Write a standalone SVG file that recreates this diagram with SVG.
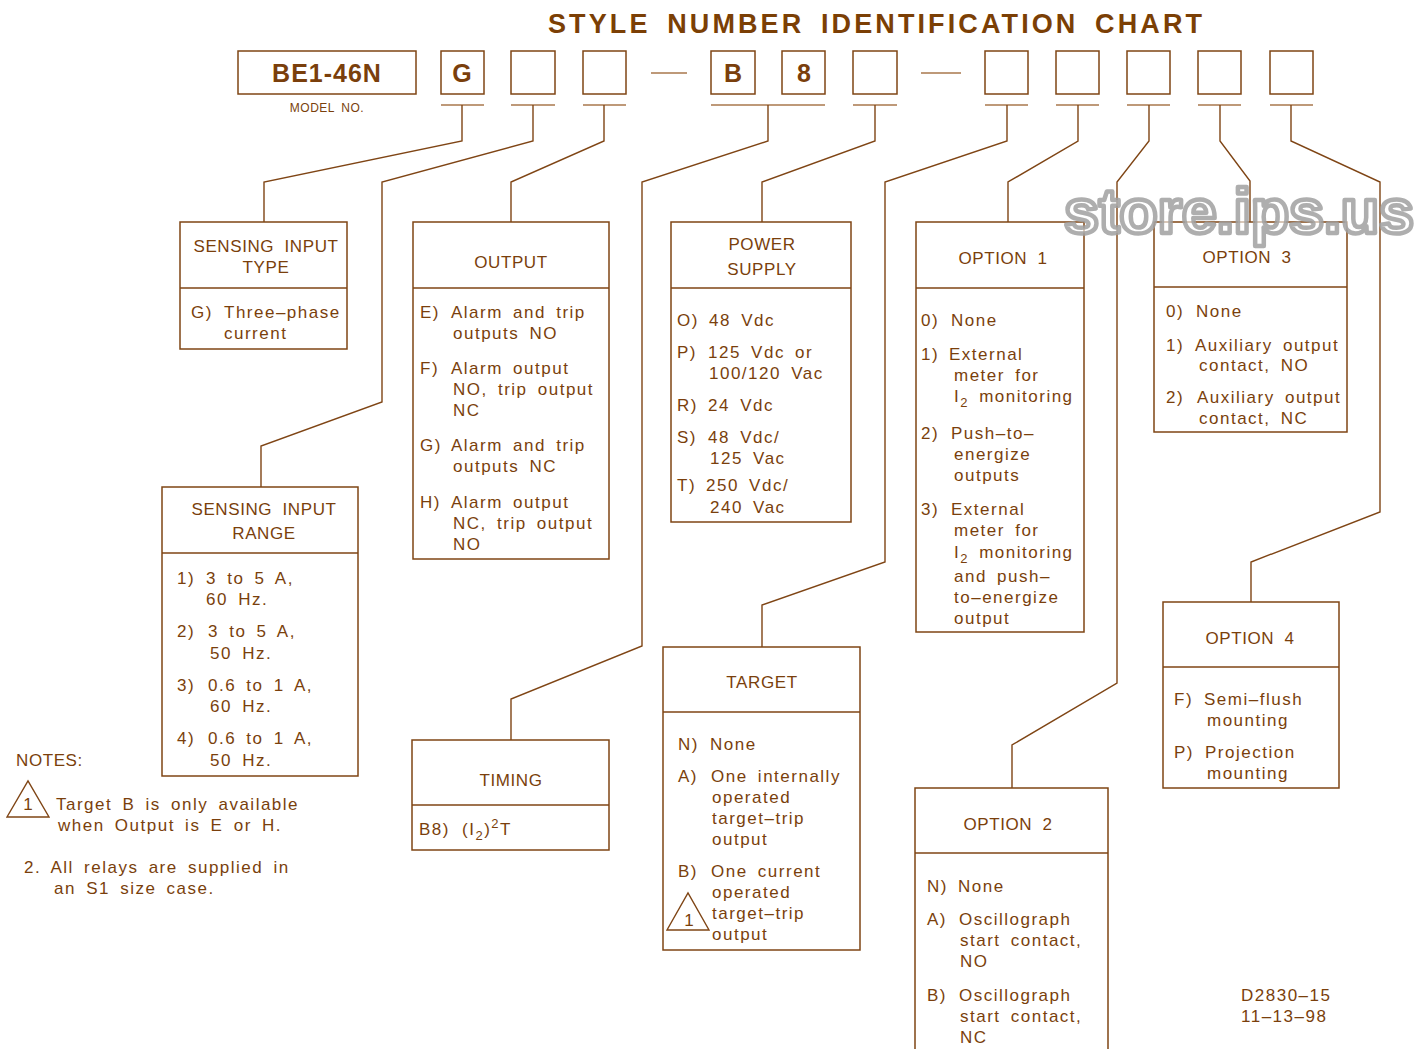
<svg xmlns="http://www.w3.org/2000/svg" width="1428" height="1049" viewBox="0 0 1428 1049">
<style>
text{font-family:"Liberation Sans",Arial,sans-serif;fill:#7a3f0c}
.t{font-size:17px;letter-spacing:1.5px;word-spacing:4px}
.h{font-size:17px;letter-spacing:0.6px;word-spacing:5px;text-anchor:middle}
.sub{font-size:13px}
.b{font-weight:bold;font-size:25px;text-anchor:middle}
.box{fill:none;stroke:#7f4515;stroke-width:1.5}
.bar{stroke:#a8774c;stroke-width:1.6}
.ln{fill:none;stroke:#7f4515;stroke-width:1.4}
</style>
<rect width="1428" height="1049" fill="#ffffff"/>
<text x="548" y="33" textLength="654" lengthAdjust="spacing" style="font-size:27px;font-weight:bold;fill:#7b3f05;word-spacing:6px">STYLE NUMBER IDENTIFICATION CHART</text>

<g id="style-number">
<rect class="box" x="238" y="51" width="178" height="43"/>
<text class="b" x="327" y="82" letter-spacing="1">BE1-46N</text>
<text x="327" y="112" style="font-size:12px;text-anchor:middle;letter-spacing:0.5px;word-spacing:3px">MODEL NO.</text>
<rect class="box" x="441" y="51" width="43" height="43"/>
<text class="b" x="462" y="82">G</text>
<rect class="box" x="511" y="51" width="44" height="43"/>
<rect class="box" x="583" y="51" width="43" height="43"/>
<line class="bar" x1="651" y1="73" x2="687" y2="73"/>
<rect class="box" x="711" y="51" width="44" height="43"/>
<text class="b" x="733" y="82">B</text>
<rect class="box" x="782" y="51" width="43" height="43"/>
<text class="b" x="804" y="82">8</text>
<rect class="box" x="853" y="51" width="44" height="43"/>
<line class="bar" x1="921" y1="73" x2="961" y2="73"/>
<rect class="box" x="985" y="51" width="43" height="43"/>
<rect class="box" x="1056" y="51" width="43" height="43"/>
<rect class="box" x="1127" y="51" width="43" height="43"/>
<rect class="box" x="1198" y="51" width="43" height="43"/>
<rect class="box" x="1270" y="51" width="43" height="43"/>
<line class="bar" x1="441" y1="105" x2="484" y2="105"/>
<line class="bar" x1="511" y1="105" x2="555" y2="105"/>
<line class="bar" x1="583" y1="105" x2="626" y2="105"/>
<line class="bar" x1="711" y1="105" x2="825" y2="105"/>
<line class="bar" x1="853" y1="105" x2="897" y2="105"/>
<line class="bar" x1="985" y1="105" x2="1028" y2="105"/>
<line class="bar" x1="1056" y1="105" x2="1099" y2="105"/>
<line class="bar" x1="1127" y1="105" x2="1170" y2="105"/>
<line class="bar" x1="1198" y1="105" x2="1241" y2="105"/>
<line class="bar" x1="1270" y1="105" x2="1313" y2="105"/>
</g>

<g id="connectors">
<polyline class="ln" points="462,105 462,141 264,182 264,222"/>
<polyline class="ln" points="533,105 533,141 382,182 382,402 261,446 261,487"/>
<polyline class="ln" points="604,105 604,141 511,182 511,222"/>
<polyline class="ln" points="768,105 768,141 642,182 642,646 511,699 511,740"/>
<polyline class="ln" points="875,105 875,141 762,182 762,222"/>
<polyline class="ln" points="1007,105 1007,141 885,182 885,562 762,605 762,647"/>
<polyline class="ln" points="1078,105 1078,141 1008,182 1008,222"/>
<polyline class="ln" points="1149,105 1149,141 1117,182 1117,683 1012,745 1012,788"/>
<polyline class="ln" points="1220,105 1220,141 1250,181 1250,222"/>
<polyline class="ln" points="1291,105 1291,141 1380,182 1380,512 1251,562 1251,602"/>
</g>

<g id="sensing-input-type">
<rect class="box" x="180" y="222" width="167" height="127"/>
<line class="ln" x1="180" y1="288" x2="347" y2="288"/>
<text class="h" x="266" y="252">SENSING INPUT</text>
<text class="h" x="266" y="273">TYPE</text>
<text class="t" x="191" y="318">G)</text>
<text class="t" x="224" y="318">Three–phase</text>
<text class="t" x="224" y="339">current</text>
</g>

<g id="output">
<rect class="box" x="413" y="222" width="196" height="337"/>
<line class="ln" x1="413" y1="288" x2="609" y2="288"/>
<text class="h" x="511" y="268">OUTPUT</text>
<text class="t" x="420" y="318">E)</text>
<text class="t" x="451" y="318">Alarm and trip</text>
<text class="t" x="453" y="339">outputs NO</text>
<text class="t" x="420" y="374">F)</text>
<text class="t" x="451" y="374">Alarm output</text>
<text class="t" x="453" y="395">NO, trip output</text>
<text class="t" x="453" y="416">NC</text>
<text class="t" x="420" y="451">G)</text>
<text class="t" x="451" y="451">Alarm and trip</text>
<text class="t" x="453" y="472">outputs NC</text>
<text class="t" x="420" y="508">H)</text>
<text class="t" x="451" y="508">Alarm output</text>
<text class="t" x="453" y="529">NC, trip output</text>
<text class="t" x="453" y="550">NO</text>
</g>

<g id="power-supply">
<rect class="box" x="671" y="222" width="180" height="300"/>
<line class="ln" x1="671" y1="288" x2="851" y2="288"/>
<text class="h" x="762" y="250">POWER</text>
<text class="h" x="762" y="275">SUPPLY</text>
<text class="t" x="677" y="326">O)</text>
<text class="t" x="709" y="326">48 Vdc</text>
<text class="t" x="677" y="358">P)</text>
<text class="t" x="708" y="358">125 Vdc or</text>
<text class="t" x="709" y="379">100/120 Vac</text>
<text class="t" x="677" y="411">R)</text>
<text class="t" x="708" y="411">24 Vdc</text>
<text class="t" x="677" y="443">S)</text>
<text class="t" x="708" y="443">48 Vdc/</text>
<text class="t" x="710" y="464">125 Vac</text>
<text class="t" x="677" y="491">T)</text>
<text class="t" x="706" y="491">250 Vdc/</text>
<text class="t" x="710" y="513">240 Vac</text>
</g>

<g id="option-1">
<rect class="box" x="916" y="222" width="168" height="410"/>
<line class="ln" x1="916" y1="288" x2="1084" y2="288"/>
<text class="h" x="1003" y="264">OPTION 1</text>
<text class="t" x="921" y="326">0)</text>
<text class="t" x="951" y="326">None</text>
<text class="t" x="921" y="360">1)</text>
<text class="t" x="949" y="360">External</text>
<text class="t" x="954" y="381">meter for</text>
<text class="t" x="954" y="402">I<tspan class="sub" dy="5">2</tspan><tspan dy="-5"> monitoring</tspan></text>
<text class="t" x="921" y="439">2)</text>
<text class="t" x="951" y="439">Push–to–</text>
<text class="t" x="954" y="460">energize</text>
<text class="t" x="954" y="481">outputs</text>
<text class="t" x="921" y="515">3)</text>
<text class="t" x="951" y="515">External</text>
<text class="t" x="954" y="536">meter for</text>
<text class="t" x="954" y="558">I<tspan class="sub" dy="5">2</tspan><tspan dy="-5"> monitoring</tspan></text>
<text class="t" x="954" y="582">and push–</text>
<text class="t" x="954" y="603">to–energize</text>
<text class="t" x="954" y="624">output</text>
</g>

<g id="option-3">
<rect class="box" x="1154" y="222" width="193" height="210"/>
<line class="ln" x1="1154" y1="287" x2="1347" y2="287"/>
<text class="h" x="1247" y="263">OPTION 3</text>
<text class="t" x="1166" y="317">0)</text>
<text class="t" x="1196" y="317">None</text>
<text class="t" x="1166" y="351">1)</text>
<text class="t" x="1195" y="351">Auxiliary output</text>
<text class="t" x="1199" y="371">contact, NO</text>
<text class="t" x="1166" y="403">2)</text>
<text class="t" x="1197" y="403">Auxiliary output</text>
<text class="t" x="1199" y="424">contact, NC</text>
</g>

<g id="sensing-input-range">
<rect class="box" x="162" y="487" width="196" height="289"/>
<line class="ln" x1="162" y1="553" x2="358" y2="553"/>
<text class="h" x="264" y="515">SENSING INPUT</text>
<text class="h" x="264" y="539">RANGE</text>
<text class="t" x="177" y="584">1)</text>
<text class="t" x="206" y="584">3 to 5 A,</text>
<text class="t" x="206" y="605">60 Hz.</text>
<text class="t" x="177" y="637">2)</text>
<text class="t" x="208" y="637">3 to 5 A,</text>
<text class="t" x="210" y="659">50 Hz.</text>
<text class="t" x="177" y="691">3)</text>
<text class="t" x="208" y="691">0.6 to 1 A,</text>
<text class="t" x="210" y="712">60 Hz.</text>
<text class="t" x="177" y="744">4)</text>
<text class="t" x="208" y="744">0.6 to 1 A,</text>
<text class="t" x="210" y="766">50 Hz.</text>
</g>

<g id="timing">
<rect class="box" x="412" y="740" width="197" height="110"/>
<line class="ln" x1="412" y1="805" x2="609" y2="805"/>
<text class="h" x="511" y="786">TIMING</text>
<text class="t" x="419" y="835">B8)</text>
<text class="t" x="462" y="835">(I<tspan class="sub" dy="5">2</tspan><tspan dy="-5">)</tspan><tspan class="sub" dy="-7">2</tspan><tspan dy="7">T</tspan></text>
</g>

<g id="target">
<rect class="box" x="663" y="647" width="197" height="303"/>
<line class="ln" x1="663" y1="712" x2="860" y2="712"/>
<text class="h" x="762" y="688">TARGET</text>
<text class="t" x="678" y="750">N)</text>
<text class="t" x="710" y="750">None</text>
<text class="t" x="678" y="782">A)</text>
<text class="t" x="711" y="782">One internally</text>
<text class="t" x="712" y="803">operated</text>
<text class="t" x="712" y="824">target–trip</text>
<text class="t" x="712" y="845">output</text>
<text class="t" x="678" y="877">B)</text>
<text class="t" x="711" y="877">One current</text>
<text class="t" x="712" y="898">operated</text>
<text class="t" x="712" y="919">target–trip</text>
<text class="t" x="712" y="940">output</text>
<polygon class="ln" points="667,930 709,930 688,893"/>
<text class="t" x="689" y="926" style="text-anchor:middle;letter-spacing:0">1</text>
</g>

<g id="option-2">
<polyline class="box" points="915,1052 915,788 1108,788 1108,1052"/>
<line class="ln" x1="915" y1="853" x2="1108" y2="853"/>
<text class="h" x="1008" y="830">OPTION 2</text>
<text class="t" x="927" y="892">N)</text>
<text class="t" x="958" y="892">None</text>
<text class="t" x="927" y="925">A)</text>
<text class="t" x="959" y="925">Oscillograph</text>
<text class="t" x="960" y="946">start contact,</text>
<text class="t" x="960" y="967">NO</text>
<text class="t" x="927" y="1001">B)</text>
<text class="t" x="959" y="1001">Oscillograph</text>
<text class="t" x="960" y="1022">start contact,</text>
<text class="t" x="960" y="1043">NC</text>
</g>

<g id="option-4">
<rect class="box" x="1163" y="602" width="176" height="186"/>
<line class="ln" x1="1163" y1="667" x2="1339" y2="667"/>
<text class="h" x="1250" y="644">OPTION 4</text>
<text class="t" x="1174" y="705">F)</text>
<text class="t" x="1204" y="705">Semi–flush</text>
<text class="t" x="1207" y="726">mounting</text>
<text class="t" x="1174" y="758">P)</text>
<text class="t" x="1205" y="758">Projection</text>
<text class="t" x="1207" y="779">mounting</text>
</g>

<g id="notes">
<text class="t" x="16" y="766" style="letter-spacing:0.6px">NOTES:</text>
<polygon class="ln" points="7,817 49,817 28,781"/>
<text class="t" x="28" y="810" style="text-anchor:middle;letter-spacing:0">1</text>
<text class="t" x="56" y="810">Target B is only available</text>
<text class="t" x="58" y="831">when Output is E or H.</text>
<text class="t" x="24" y="873">2. All relays are supplied in</text>
<text class="t" x="54" y="894">an S1 size case.</text>
</g>

<g id="drawing-number">
<text class="t" x="1241" y="1001">D2830–15</text>
<text class="t" x="1241" y="1022">11–13–98</text>
</g>

<text x="1064" y="233" textLength="350" lengthAdjust="spacing" style="font-size:63px;font-weight:bold;fill:#ffffff;fill-opacity:0.6;stroke:#a0a0a0;stroke-width:4.5;stroke-opacity:0.85;stroke-linejoin:round">store.ips.us</text>
</svg>
